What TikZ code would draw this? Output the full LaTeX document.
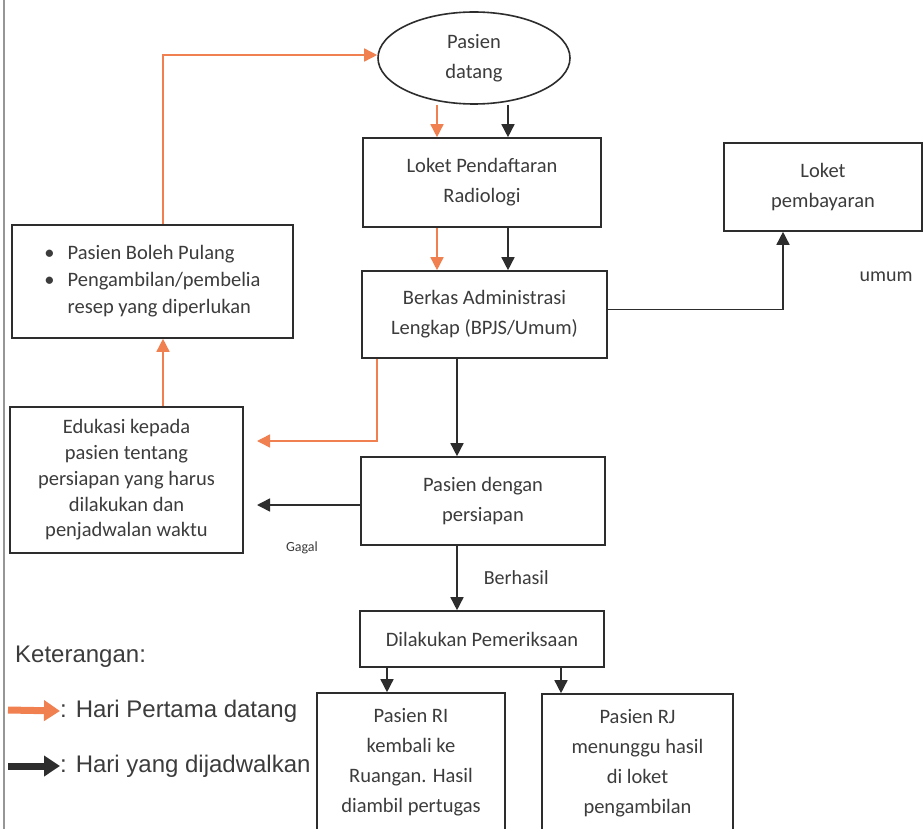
\documentclass[tikz,border=0pt]{standalone}
\usepackage{fontspec}
\setmainfont{Carlito}
\newfontfamily\legendfont{Liberation Sans}
\usetikzlibrary{arrows.meta,shapes.geometric}

\definecolor{ink}{RGB}{45,45,45}
\definecolor{inktext}{RGB}{60,60,60}
\definecolor{firstday}{RGB}{240,128,80}
\definecolor{scanedge}{RGB}{150,150,150}

\tikzset{
    >={Triangle[width=13pt,length=13pt]},
    every node/.style={text=inktext, inner sep=0pt},
    box/.style={draw=ink, line width=1.6pt, rectangle, align=center, font=\fontsize{20.5}{30}\selectfont},
    start/.style={box, ellipse},
    blackline/.style={draw=ink, line width=1.5pt, ->},
    orangeline/.style={draw=firstday, line width=1.5pt, ->},
    note/.style={font=\fontsize{20}{24}\selectfont},
    small/.style={font=\fontsize{14}{16}\selectfont},
    legend/.style={font=\legendfont\fontsize{24}{28}\selectfont, anchor=west},
    legendarrow/.style={line width=7pt, -{Triangle[width=20pt,length=16pt]}},
}

\begin{document}
\begin{tikzpicture}[x=1pt, y=-1pt]
    \useasboundingbox[fill=white] (0,0) rectangle (924,829);
    \draw[scanedge, line width=1.5pt] (4,0) -- (4,829);

    % flow
    \node [start, minimum width=192pt, minimum height=92pt] (pasien) at (474,58) {Pasien\\datang};
    \node [box, minimum width=238pt, minimum height=89pt] (loket) at (482,182.5) {Loket Pendaftaran\\Radiologi};
    \node [box, minimum width=245pt, minimum height=87pt] (berkas) at (484.5,314.5) {Berkas Administrasi\\Lengkap (BPJS/Umum)};
    \node [box, minimum width=244pt, minimum height=88pt] (persiapan) at (483,501) {Pasien dengan\\persiapan};
    \node [box, minimum width=244pt, minimum height=56pt] (periksa) at (482,639) {Dilakukan Pemeriksaan};
    \node [box, minimum width=188pt, minimum height=138pt] (ri) at (411,762) {Pasien RI\\kembali ke\\Ruangan. Hasil\\diambil pertugas};
    \node [box, minimum width=191pt, minimum height=138pt] (rj) at (637.5,763) {Pasien RJ\\menunggu hasil\\di loket\\pengambilan};
    \node [box, minimum width=198pt, minimum height=88pt] (pembayaran) at (823,187) {Loket\\pembayaran};
    \node [box, minimum width=281pt, minimum height=113pt, font=\fontsize{20.5}{27}\selectfont] (pulang) at (152.5,281.5)
        {\begin{tabular}{@{}l@{\hspace{13pt}}l@{}}
            \textbullet & Pasien Boleh Pulang\\
            \textbullet & Pengambilan/pembelia\\
                        & resep yang diperlukan
         \end{tabular}};
    \node [box, minimum width=233pt, minimum height=146pt, font=\fontsize{20.5}{25.7}\selectfont] (edukasi) at (126.5,480)
        {Edukasi kepada\\pasien tentang\\persiapan yang harus\\dilakukan dan\\penjadwalan waktu};

    \node [note] (umum) at (886,277) {umum};
    \node [small] (gagal) at (302,548) {Gagal};

    % columns of the connectors
    \coordinate (colO) at (437,0);
    \coordinate (colB) at (508,0);
    \coordinate (colM) at (457,0);
    \coordinate (colE) at (377,0);
    \coordinate (colU) at (163,0);
    \coordinate (colP) at (783,0);
    \coordinate (colRI) at (387,0);
    \coordinate (colRJ) at (561,0);
    \coordinate (eduO) at (257,441);

    \draw [orangeline] (colO |- pasien.south) -- (colO |- loket.north);
    \draw [blackline] (colB |- pasien.south) -- (colB |- loket.north);
    \draw [orangeline] (colO |- loket.south) -- (colO |- berkas.north);
    \draw [blackline] (colB |- loket.south) -- (colB |- berkas.north);
    \draw [blackline] ([yshift=5pt]berkas.east) -| (colP |- pembayaran.south);
    \draw [blackline] (colM |- berkas.south) -- (colM |- persiapan.north);
    \draw [orangeline] (colE |- berkas.south) |- (eduO);
    \draw [blackline] ([yshift=-4pt]persiapan.west) -- ([yshift=-4pt]persiapan.west -| eduO);
    \draw [orangeline] (colU |- edukasi.north) -- (colU |- pulang.south);
    \draw [orangeline] (colU |- pulang.north) |- ([yshift=3pt]pasien.west);
    \draw [blackline] (colM |- persiapan.south) -- (colM |- periksa.north)
        node [note, midway, right=26pt] (berhasil) {Berhasil};
    \draw [blackline] (colRI |- periksa.south) -- (colRI |- ri.north);
    \draw [blackline] (colRJ |- periksa.south) -- (colRJ |- rj.north);

    % legend
    \node [legend] (keterangan) at (15,657) {Keterangan:};
    \node [legend] (legfirst) at (60,711) {: Hari Pertama datang};
    \node [legend] (legnext) at (60,766) {: Hari yang dijadwalkan};
    \draw [legendarrow, firstday] (8,710) -- (legfirst.west);
    \draw [legendarrow, ink] (8,766) -- (legnext.west);
\end{tikzpicture}
\end{document}
